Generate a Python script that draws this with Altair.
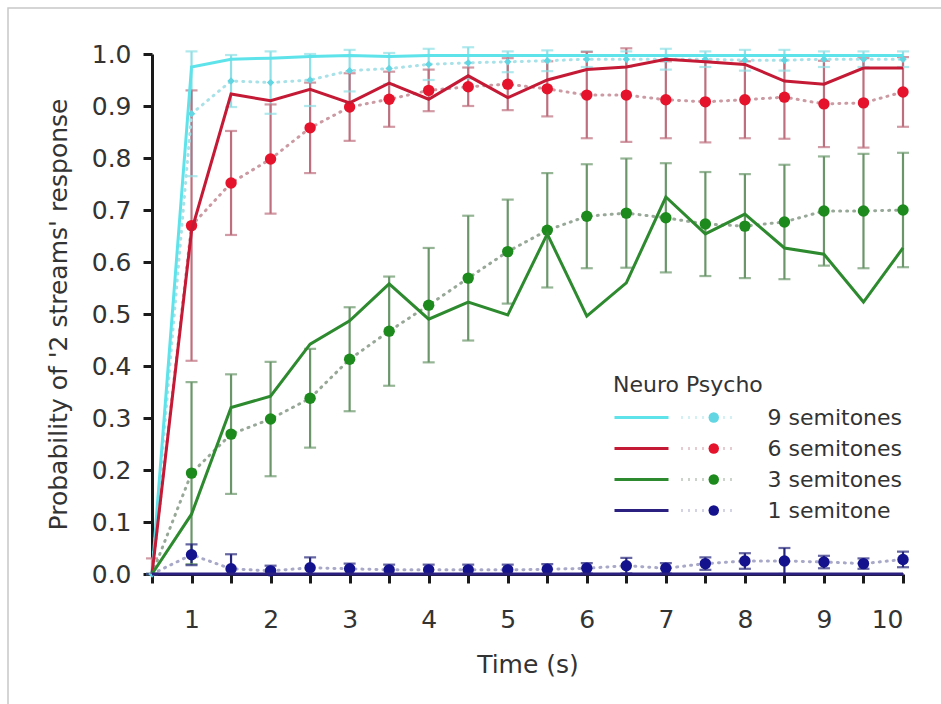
import altair as alt
import pandas as pd

# ---------------- data ----------------
times = [0.5, 1, 1.5, 2, 2.5, 3, 3.5, 4, 4.5, 5, 5.5, 6, 6.5, 7, 7.5, 8, 8.5, 9, 9.5, 10]
series = ["9 semitones", "6 semitones", "3 semitones", "1 semitone"]

neuro_9 = [0, 0.975, 0.99, 0.992, 0.995, 0.997, 0.995, 0.997, 0.997, 0.997, 0.997, 0.997, 0.997, 0.997, 0.997, 0.997, 0.997, 0.997, 0.997, 0.997]
neuro_6 = [0, 0.66, 0.923, 0.91, 0.932, 0.906, 0.944, 0.913, 0.958, 0.916, 0.95, 0.97, 0.975, 0.99, 0.985, 0.98, 0.948, 0.942, 0.973, 0.973]
neuro_3 = [0, 0.115, 0.32, 0.342, 0.442, 0.487, 0.558, 0.49, 0.523, 0.498, 0.654, 0.496, 0.56, 0.725, 0.654, 0.692, 0.627, 0.615, 0.523, 0.627]
neuro_1 = [0, 0, 0, 0, 0, 0, 0, 0, 0, 0, 0, 0, 0, 0, 0, 0, 0, 0, 0, 0]

psycho_9 = [0, 0.885, 0.948, 0.945, 0.95, 0.968, 0.972, 0.98, 0.983, 0.985, 0.987, 0.99, 0.99, 0.99, 0.99, 0.988, 0.988, 0.99, 0.99, 0.99]
psycho_6 = [0, 0.67, 0.752, 0.798, 0.858, 0.898, 0.913, 0.93, 0.937, 0.942, 0.933, 0.921, 0.921, 0.912, 0.908, 0.912, 0.917, 0.904, 0.906, 0.927]
psycho_3 = [0, 0.194, 0.269, 0.298, 0.338, 0.413, 0.467, 0.517, 0.569, 0.62, 0.661, 0.688, 0.694, 0.685, 0.673, 0.669, 0.677, 0.698, 0.698, 0.70]
psycho_1 = [0, 0.037, 0.01, 0.006, 0.012, 0.01, 0.008, 0.008, 0.008, 0.008, 0.009, 0.011, 0.016, 0.011, 0.02, 0.025, 0.025, 0.023, 0.02, 0.028]

err_9 = [0, 0.12, 0.05, 0.06, 0.05, 0.04, 0.03, 0.03, 0.03, 0.02, 0.02, 0.015, 0.015, 0.02, 0.015, 0.02, 0.02, 0.015, 0.015, 0.015]
err_6 = [0.03, 0.26, 0.10, 0.105, 0.087, 0.065, 0.053, 0.04, 0.037, 0.05, 0.053, 0.083, 0.09, 0.074, 0.078, 0.074, 0.08, 0.083, 0.086, 0.067]
err_3 = [0, 0.175, 0.115, 0.11, 0.095, 0.1, 0.105, 0.11, 0.12, 0.1, 0.11, 0.1, 0.105, 0.105, 0.1, 0.1, 0.11, 0.105, 0.11, 0.11]
err_1 = [0, 0.02, 0.028, 0.01, 0.02, 0.01, 0.01, 0.01, 0.01, 0.01, 0.01, 0.01, 0.015, 0.01, 0.012, 0.015, 0.025, 0.012, 0.01, 0.015]

y_ticks = [0.0, 0.1, 0.2, 0.3, 0.4, 0.5, 0.6, 0.7, 0.8, 0.9, 1.0]

neuro = dict(zip(series, [neuro_9, neuro_6, neuro_3, neuro_1]))
psycho = dict(zip(series, [psycho_9, psycho_6, psycho_3, psycho_1]))
err = dict(zip(series, [err_9, err_6, err_3, err_1]))

rows = []
for s in series:
    for t, n, p, e in zip(times, neuro[s], psycho[s], err[s]):
        rows.append({"series": s, "t": t, "neuro": n, "psycho": p,
                     "lo": max(p - e, 0.0), "hi": p + e})
df = pd.DataFrame(rows)

# ---------------- styles ----------------
solid_colors = ["#5fe3ea", "#c41a35", "#2e8a2e", "#2b2080"]
dot_colors = ["#62d6e2", "#e5132b", "#1c8a1c", "#14128c"]
dotted_colors = ["#a8e2e8", "#cc9aa2", "#98a898", "#a8a8c8"]
err_colors = ["#8fdfe6", "#bd6f7d", "#6a966a", "#25257a"]

FONT = "DejaVu Sans"
TXT = "#333333"

xscale = alt.Scale(domain=[0.5, 10], nice=False, zero=False)
yscale = alt.Scale(domain=[0, 1], nice=False)

X = alt.X("t:Q", scale=xscale,
          axis=alt.Axis(values=times, title="Time (s)",
                        labelExpr="datum.value % 1 == 0 ? format(datum.value, 'd') : ''",
                        labelPadding=24, titlePadding=20))
Y = alt.Y("psycho:Q", scale=yscale,
          axis=alt.Axis(values=y_ticks, format=".1f", title="Probability of '2 streams' response",
                        labelPadding=12, titlePadding=20))

def cscale(rng):
    return alt.Scale(domain=series, range=rng)

leg_common = dict(orient="none", padding=0, titleFont=FONT, titleFontSize=22,
                  titleFontWeight="normal", titleColor=TXT, titlePadding=8,
                  labelFont=FONT, labelFontSize=22, labelColor=TXT,
                  clipHeight=25, rowPadding=6)

base = alt.Chart(df)

frame = base.mark_rect(fill=None, stroke="#c8c8c8", strokeWidth=1.5).encode(
    x=alt.value(-144), x2=alt.value(800), y=alt.value(-46), y2=alt.value(660)
).transform_filter("datum.t == 0.5 && datum.series == '9 semitones'")

err_rule = base.mark_rule(strokeWidth=2.2).encode(
    x=X, y=alt.Y("lo:Q", scale=yscale), y2="hi:Q",
    color=alt.Color("series:N", scale=cscale(err_colors), legend=None))
err_lo = base.mark_tick(orient="horizontal", size=12, thickness=2.2).encode(
    x=X, y=alt.Y("lo:Q", scale=yscale),
    color=alt.Color("series:N", scale=cscale(err_colors), legend=None))
err_hi = base.mark_tick(orient="horizontal", size=12, thickness=2.2).encode(
    x=X, y=alt.Y("hi:Q", scale=yscale),
    color=alt.Color("series:N", scale=cscale(err_colors), legend=None))

dotted = base.mark_line(strokeWidth=3, strokeDash=[1, 6], strokeCap="round").encode(
    x=X, y=Y,
    color=alt.Color("series:N", scale=cscale(dotted_colors),
                    legend=alt.Legend(title=None, symbolType="stroke",
                                      symbolSize=3025, symbolDash=[1, 6], symbolStrokeWidth=3,
                                      labelExpr="''", legendX=528, legendY=351, **leg_common)))

dots = base.mark_point(filled=True, opacity=1).encode(
    x=X, y=Y,
    color=alt.Color("series:N", scale=cscale(dot_colors),
                    legend=alt.Legend(title=None, symbolType="circle",
                                      symbolSize=110, symbolStrokeWidth=0, symbolOpacity=1,
                                      labelOffset=42.75, legendX=550.75, legendY=351,
                                      **leg_common)),
    size=alt.condition("datum.series == '9 semitones'", alt.value(55), alt.value(130)),
    shape=alt.condition("datum.series == '9 semitones'", alt.value("diamond"), alt.value("circle")),
).transform_filter("datum.t > 0.5 || datum.series == '9 semitones'")

solid = base.mark_line(strokeWidth=3).encode(
    x=X, y=alt.Y("neuro:Q", scale=yscale),
    color=alt.Color("series:N", scale=cscale(solid_colors),
                    legend=alt.Legend(title="Neuro Psycho", symbolType="stroke",
                                      symbolSize=2916, symbolStrokeWidth=3,
                                      labelExpr="''", legendX=461, legendY=321, **leg_common)))

chart = alt.layer(frame, err_rule, err_lo, err_hi, dotted, dots, solid).resolve_scale(
    color="independent"
).properties(
    width=751, height=520, autosize="none",
    padding={"left": 152, "top": 54, "right": 38, "bottom": 130},
    background="white",
).configure_view(stroke=None).configure_axis(
    grid=False, domainColor="#1a1a1a", domainWidth=3, tickColor="#1a1a1a", tickWidth=3,
    tickSize=9, labelFont=FONT, labelFontSize=25, labelColor=TXT,
    titleFont=FONT, titleFontSize=25, titleFontWeight="normal", titleColor=TXT,
)

chart.save("out.html", embed_options={"renderer": "svg", "actions": False})
